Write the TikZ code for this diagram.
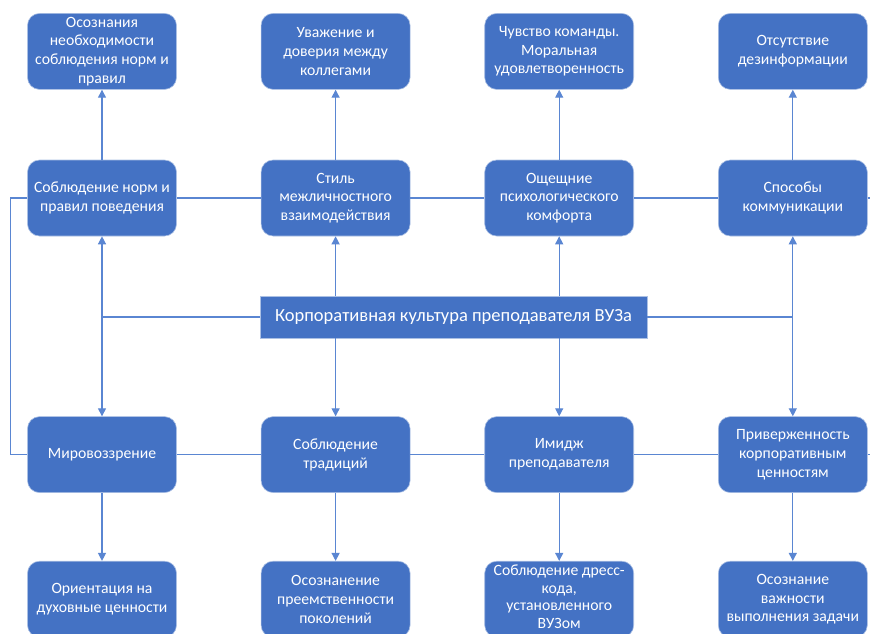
\documentclass[tikz,border=0pt]{standalone}
\usepackage{fontspec}
\setmainfont{Carlito}
\usepackage{tikz}
\usetikzlibrary{positioning, arrows.meta}
\definecolor{boxblue}{HTML}{4472C4}
\definecolor{linkblue}{HTML}{5A86D2}

\begin{document}
\begin{tikzpicture}[x=1pt, y=-1pt,
  font=\fontsize{15.7}{18.8}\selectfont, >={Triangle[width=8pt,length=8pt]},
  node distance=70pt and 84pt,
  blk/.style={draw=white!55!boxblue, line width=0.6pt, fill=boxblue, rounded corners=12pt, text=white, align=center, minimum width=149pt, minimum height=76pt, inner sep=2pt},
  hub/.style={draw=white!55!boxblue, line width=0.6pt, fill=boxblue, text=white, minimum width=387pt, minimum height=42pt, font=\fontsize{18.5}{22}\selectfont},
  link/.style={draw=linkblue, line width=1.3pt}]
\useasboundingbox (0,0) rectangle (870,633);
% row of behaviour blocks
\node[blk] (s1) at (102,198) {Соблюдение норм и\\правил поведения};
\node[blk, right=of s1]      (s2) {Стиль\\межличностного\\взаимодействия};
\node[blk, right=74pt of s2] (s3) {Ощещние\\психологического\\комфорта};
\node[blk, right=of s3]      (s4) {Способы\\коммуникации};
% results above
\node[blk, above=of s1] (n1) {Осознания\\необходимости\\соблюдения норм и\\правил};
\node[blk, above=of s2] (n2) {Уважение и\\доверия между\\коллегами};
\node[blk, above=of s3] (n3) {Чувство команды.\\Моральная\\удовлетворенность};
\node[blk, above=of s4] (n4) {Отсутствие\\дезинформации};
% centre
\node[hub] (c) at (453.5,317) {Корпоративная культура преподавателя ВУЗа};
% row of value blocks
\node[blk, below=180pt of s1] (m1) {Мировоззрение};
\node[blk, below=180pt of s2] (m2) {Соблюдение\\традиций};
\node[blk, below=180pt of s3] (m3) {Имидж\\преподавателя};
\node[blk, below=180pt of s4] (m4) {Приверженность\\корпоративным\\ценностям};
% results below
\node[blk, below=68pt of m1] (b1) {Ориентация на\\духовные ценности};
\node[blk, below=68pt of m2] (b2) {Осознанение\\преемственности\\поколений};
\node[blk, below=68pt of m3, font=\fontsize{15.7}{17.6}\selectfont, text depth=5pt] (b3) {Соблюдение дресс-\\кода,\\установленного\\ВУЗом};
\node[blk, below=68pt of m4] (b4) {Осознание\\важности\\выполнения задачи};
% free ends
\coordinate[left=17pt of s1.west]  (sL);
\coordinate[right=8pt of s4.east]  (sR);
\coordinate[right=8pt of m4.east]  (mR);
% connectors
\draw[link,->] (s1) -- (n1); \draw[link,->] (s2) -- (n2);
\draw[link,->] (s3) -- (n3); \draw[link,->] (s4) -- (n4);
\draw[link] (s1) -- (s2); \draw[link] (s2) -- (s3); \draw[link] (s3) -- (s4); \draw[link] (s4.east) -- (sR);
\draw[link] (m1) -- (m2); \draw[link] (m2) -- (m3); \draw[link] (m3) -- (m4); \draw[link] (m4.east) -- (mR);
\draw[link] (s1.west) -- (sL) |- (m1.west);
\draw[link] (c.west) -- (c.west -| s1); \draw[link] (c.east) -- (c.east -| s4);
\draw[link,->] (c.west -| s1) -- (s1.south); \draw[link,->] (c.west -| s1) -- (m1.north);
\draw[link,->] (c.east -| s4) -- (s4.south); \draw[link,->] (c.east -| s4) -- (m4.north);
\draw[link,->] (c.north -| s2) -- (s2.south); \draw[link,->] (c.south -| s2) -- (m2.north);
\draw[link,->] (c.north -| s3) -- (s3.south); \draw[link,->] (c.south -| s3) -- (m3.north);
\draw[link,->] (m1) -- (b1); \draw[link,->] (m2) -- (b2);
\draw[link,->] (m3) -- (b3); \draw[link,->] (m4) -- (b4);
\end{tikzpicture}
\end{document}
